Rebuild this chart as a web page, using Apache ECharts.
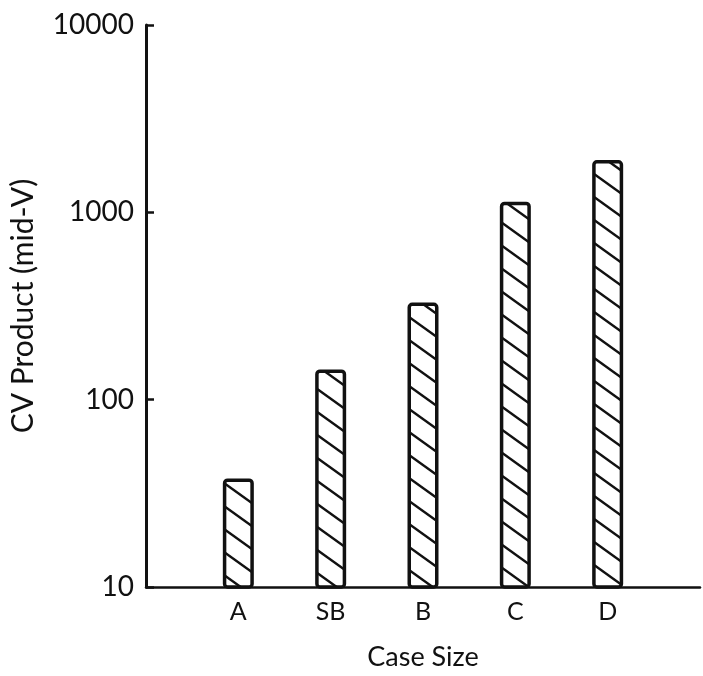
<!DOCTYPE html>
<html>
<head>
<meta charset="utf-8">
<script src="https://cdn.jsdelivr.net/npm/echarts@6/dist/echarts.min.js"></script>
<style>
  html, body { margin: 0; padding: 0; background: #fff; }
  #chart { width: 703px; height: 676px; }
</style>
</head>
<body>
<div id="chart"></div>
<script>
// Case sizes and their CV product (mid-V), log scale
const categories = ['A', 'SB', 'B', 'C', 'D'];
const cvProduct = [38, 145, 330, 1140, 1900];
const yTickLabels = ['10', '100', '1000', '10000'];

// Diagonal hatch tile ("\" direction) used as bar fill
function hatchPattern() {
  const w = 32, h = 23;
  const c = document.createElement('canvas');
  c.width = w; c.height = h;
  const ctx = c.getContext('2d');
  ctx.fillStyle = '#fff';
  ctx.fillRect(0, 0, w, h);
  ctx.strokeStyle = '#111';
  ctx.lineWidth = 2.4;
  for (const dx of [-w, 0, w]) {
    ctx.beginPath();
    ctx.moveTo(dx - w, -h);
    ctx.lineTo(dx + 2 * w, 2 * h);
    ctx.stroke();
  }
  return c;
}

// pad the category axis with an empty slot at each end
const axisCats = [''].concat(categories, ['']);
const barData = [null].concat(cvProduct, [null]);

const font = 'Lato, "Noto Sans", sans-serif';
const chart = echarts.init(document.getElementById('chart'));
chart.setOption({
  animation: false,
  backgroundColor: '#fff',
  grid: { left: 145, top: 25, bottom: 89, right: -4.5, containLabel: false },
  xAxis: {
    type: 'category',
    data: axisCats,
    boundaryGap: false,
    name: 'Case Size',
    nameLocation: 'middle',
    nameGap: 57,
    nameTextStyle: { fontFamily: font, fontSize: 27, color: '#111' },
    axisLine: { lineStyle: { color: '#111', width: 2.5 } },
    axisTick: { show: false },
    axisLabel: { interval: 0, margin: 12, fontFamily: font, fontSize: 25, color: '#111' },
    splitLine: { show: false }
  },
  yAxis: {
    type: 'log',
    logBase: 10,
    min: 10,
    max: 10000,
    name: 'CV Product (mid-V)',
    nameLocation: 'middle',
    nameGap: 108,
    nameTextStyle: { fontFamily: font, fontSize: 30, color: '#111' },
    axisLine: { show: true, lineStyle: { color: '#111', width: 3 } },
    axisTick: { show: true, inside: true, length: 8, lineStyle: { color: '#111', width: 2.5 } },
    axisLabel: {
      margin: 12,
      fontFamily: font,
      fontSize: 28,
      color: '#111',
      formatter: function (v) {
        const i = Math.round(Math.log10(v)) - 1;
        return yTickLabels[i] !== undefined ? yTickLabels[i] : '';
      }
    },
    splitLine: { show: false }
  },
  series: [{
    type: 'bar',
    data: barData,
    barWidth: 31,
    itemStyle: {
      color: { image: hatchPattern(), repeat: 'repeat' },
      borderColor: '#111',
      borderWidth: 3.5,
      borderRadius: 3
    }
  }]
});
</script>
</body>
</html>
